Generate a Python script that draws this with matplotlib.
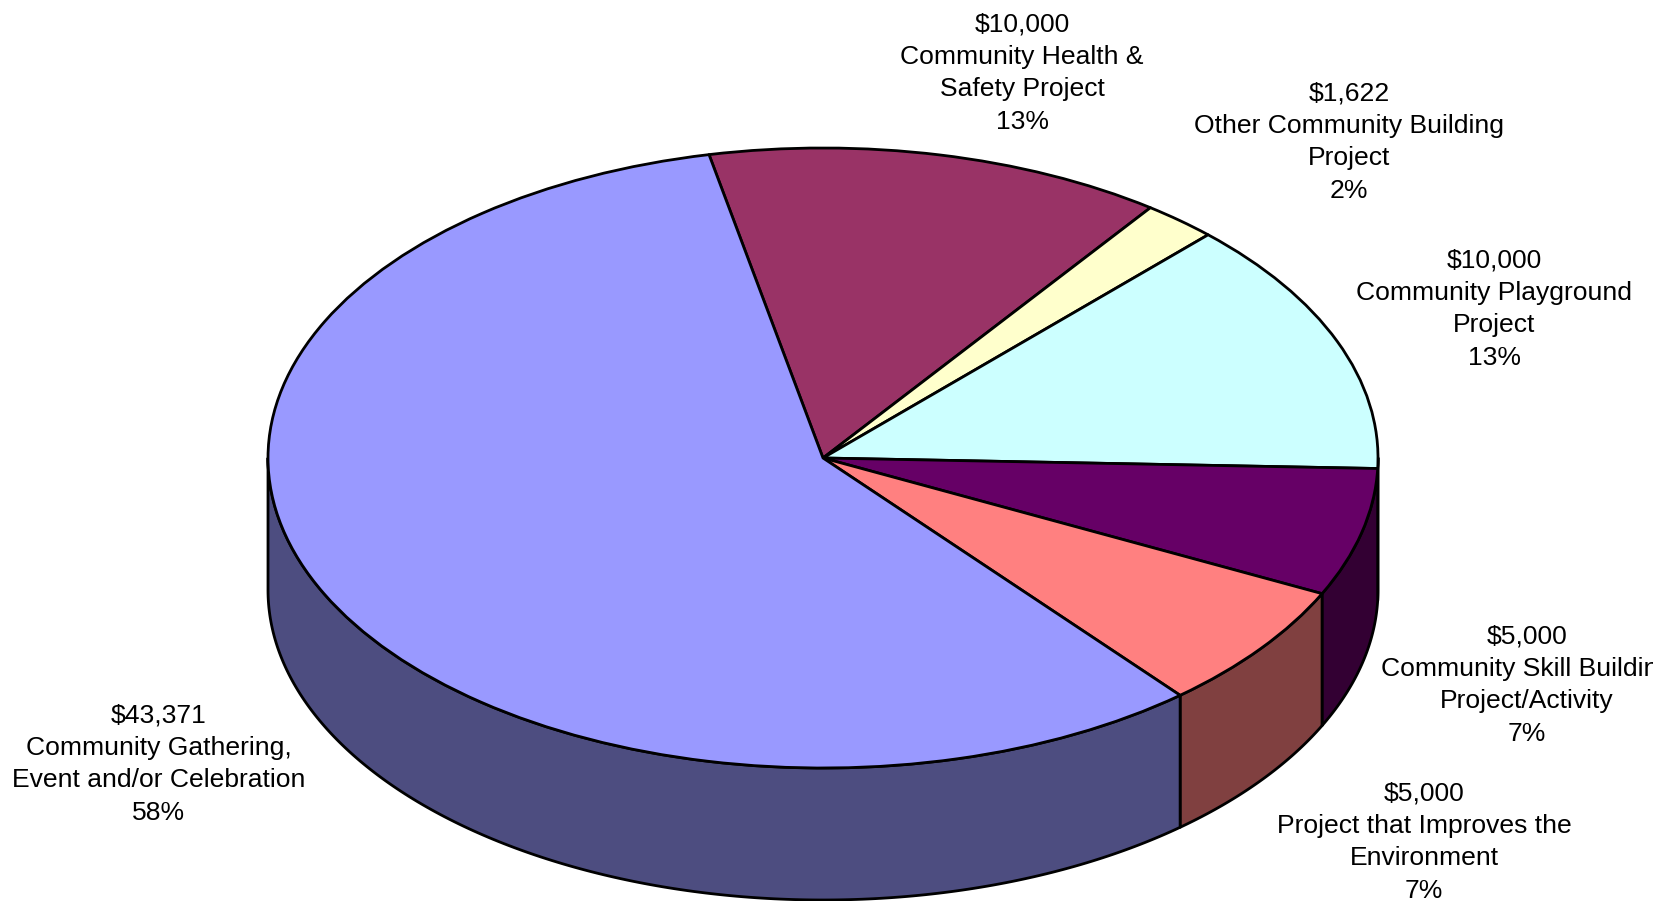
import numpy as np
import matplotlib
matplotlib.use("Agg")
import matplotlib.pyplot as plt
from matplotlib.colors import to_rgb
from matplotlib.patches import Polygon
from matplotlib.transforms import Bbox

plt.rcParams['font.family'] = ['Liberation Sans', 'DejaVu Sans']

# data, in drawing order (clockwise from the top)
names = ["Community Health &\nSafety Project",
         "Other Community Building\nProject",
         "Community Playground\nProject",
         "Community Skill Building\nProject/Activity",
         "Project that Improves the\nEnvironment",
         "Community Gathering,\nEvent and/or Celebration"]
values = [10000, 1622, 10000, 5000, 5000, 43371]
colors = ["#993366", "#FFFFCC", "#CCFFFF", "#660066", "#FF8080", "#9999FF"]

# layout, in pixels of the 1659x901 picture
W, H = 1659, 901
cx, cy = 823, 458
rx, ry = 555, 310
depth = 132 / ry
label_pos = [(1022, 73), (1349, 142), (1494, 309), (1527, 685), (1424, 842), (159, 764)]
lw = 2.0

fig = plt.figure(figsize=(W / 100, H / 100), dpi=100)
ax = fig.add_axes([0, 0, 1, 1])

wedges, _ = ax.pie(values, colors=colors, startangle=101.85, counterclock=False,
                   wedgeprops={'edgecolor': 'black', 'linewidth': lw, 'joinstyle': 'round'})

# flatten the circle into an ellipse
ax.set_aspect('auto')
ax.set_xlim(-cx / rx, (W - cx) / rx)
ax.set_ylim((cy - H) / ry, cy / ry)

# side wall under the front half of the pie
for w, c in zip(wedges, colors):
    t1 = max(min(w.theta1, w.theta2), -180)
    t2 = min(max(w.theta1, w.theta2), 0)
    if t2 <= t1:
        continue
    t = np.radians(np.linspace(t1, t2, 200))
    x = np.cos(t)
    y = np.sin(t)
    pts = np.vstack([np.column_stack([x, y]), np.column_stack([x[::-1], y[::-1] - depth])])
    shade = tuple(0.5 * v for v in to_rgb(c))
    ax.add_patch(Polygon(pts, closed=True, facecolor=shade, edgecolor='black',
                         linewidth=lw, joinstyle='round', zorder=0.5))

# labels, the right edge of the picture cuts the longest one
total = sum(values)
clip = Bbox([[0, 0], [1653, H]])
for name, v, (px, py) in zip(names, values, label_pos):
    s = "${:,}\n{}\n{:.0f}%".format(v, name, 100 * v / total)
    txt = fig.text(px / W, 1 - py / H, s, ha='center', va='center', multialignment='center',
                   fontsize=19.05, color='black', linespacing=1.44)
    txt.set_clip_on(True)
    txt.set_clip_box(clip)

fig.savefig("out.png", dpi=100, facecolor='white')
